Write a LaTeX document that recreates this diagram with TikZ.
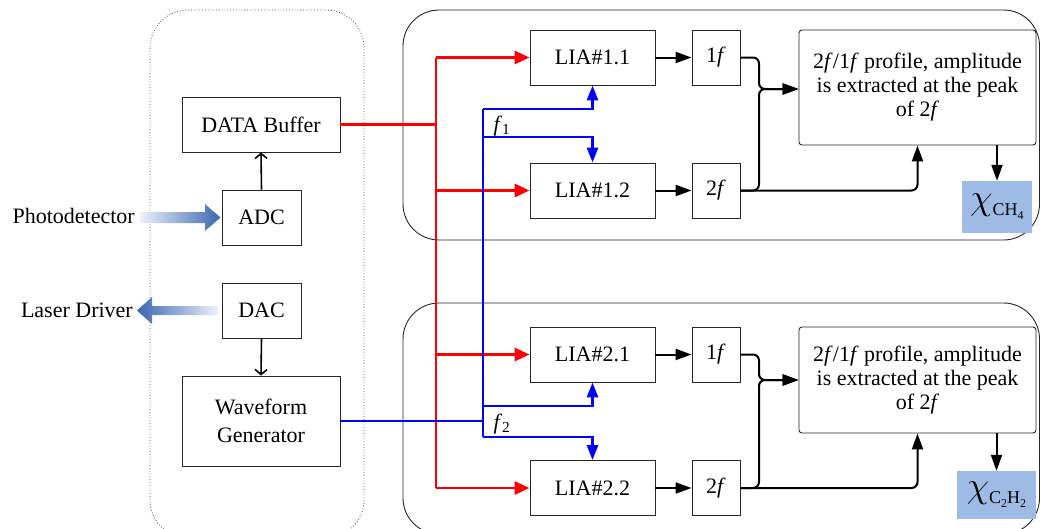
\documentclass[tikz,border=0pt]{standalone}
\usepackage{fontspec}
\usepackage{graphicx}
\setmainfont{Liberation Serif}
\usetikzlibrary{arrows.meta}
\definecolor{chiblue}{RGB}{157,187,228}
\definecolor{arrblue}{RGB}{58,103,176}
\definecolor{arrlight}{RGB}{236,241,250}
\newcommand{\bigchi}{\scalebox{1.75}{$\chi$}}
\begin{document}
\begin{tikzpicture}[x=1pt,y=-1pt,
  box/.style={draw=black!85, line width=0.9pt, fill=white, inner sep=0pt, align=center,
    font=\fontsize{22}{24}\selectfont},
  lbl/.style={inner sep=0pt, font=\fontsize{22}{24}\selectfont},
  chibox/.style={fill=chiblue, inner sep=0pt, font=\fontsize{20}{22}\selectfont},
  redline/.style={red, line width=2.9pt},
  redarr/.style={redline, -{Triangle[length=15pt,width=13pt]}},
  blueline/.style={blue, line width=2.8pt},
  bluearr/.style={blueline, -{Triangle[length=15pt,width=11pt]}},
  blkarr/.style={black, line width=2pt, -{Triangle[length=16pt,width=11pt]}},
  openarr/.style={black, line width=1.6pt, -{Straight Barb[length=5pt,width=12pt]}},
  container/.style={draw=black!85, line width=0.9pt, rounded corners=36pt}
]
\useasboundingbox (0,0) rectangle (1041,528);

% containers
\draw[black!70, line width=0.8pt, dotted, rounded corners=38pt] (150,10) rectangle (364,538);
\draw[container] (403,10) rectangle (1039.5,240);
\draw[container] (403,303) rectangle (1039.5,534);

% left blocks
\node[box, minimum width=158pt, minimum height=55pt] (buf) at (261,124.5) {DATA Buffer};
\node[box, minimum width=79pt, minimum height=55pt] (adc) at (261.5,217.5) {ADC};
\node[box, minimum width=79pt, minimum height=55pt] (dac) at (261.5,310.5) {DAC};
\node[box, minimum width=158pt, minimum height=90pt] (wg) at (261,421) {Waveform\\[4pt]Generator};

\node[lbl, anchor=east] (pd) at (135,216) {Photodetector};
\node[lbl, anchor=east] (ld) at (133,310) {Laser Driver};

% shaded arrows
\shade[left color=arrlight, right color=arrblue]
  (140,212) -- (205,212) -- (205,204) -- (220.5,217.5) -- (205,231) -- (205,223) -- (140,223) -- cycle;
\shade[left color=arrblue, right color=arrlight]
  (218,306) -- (152,306) -- (152,297) -- (137,310.5) -- (152,324) -- (152,315) -- (218,315) -- cycle;

\draw[openarr] (adc.north) -- (buf.south);
\draw[openarr] (dac.south) -- (wg.north);

% LIA boxes
\node[box, minimum width=125pt, minimum height=55pt] (l11) at (592.5,57.5) {LIA\#1.1};
\node[box, minimum width=125pt, minimum height=55pt] (l12) at (592.5,190.5) {LIA\#1.2};
\node[box, minimum width=125pt, minimum height=55pt] (l21) at (592.5,354.5) {LIA\#2.1};
\node[box, minimum width=125pt, minimum height=55pt] (l22) at (592.5,488) {LIA\#2.2};

\node[box, minimum width=48pt, minimum height=55pt] (f11) at (716,57.5) {1\textit{f}};
\node[box, minimum width=48pt, minimum height=55pt] (f12) at (716,190.5) {2\textit{f}};
\node[box, minimum width=48pt, minimum height=55pt] (f21) at (716,354.5) {1\textit{f}};
\node[box, minimum width=48pt, minimum height=55pt] (f22) at (716,488) {2\textit{f}};

\node[box, rounded corners=3pt, minimum width=237pt, minimum height=115pt] (p1) at (917.5,87.5)
  {2\textit{f}/1\textit{f} profile, amplitude\\is extracted at the peak\\of 2\textit{f}};
\node[box, rounded corners=3pt, minimum width=237pt, minimum height=106pt] (p2) at (917.5,380)
  {2\textit{f}/1\textit{f} profile, amplitude\\is extracted at the peak\\of 2\textit{f}};

\node[chibox, minimum width=70pt, minimum height=52pt] (c1) at (997,207)
  {\bigchi\raisebox{-6pt}{\fontsize{18}{18}\selectfont CH\raisebox{-4pt}{\fontsize{12}{12}\selectfont 4}}};
\node[chibox, minimum width=79pt, minimum height=48pt] (c2) at (996.5,495)
  {\bigchi\raisebox{-6pt}{\fontsize{18}{18}\selectfont C\raisebox{-4pt}{\fontsize{12}{12}\selectfont 2}H\raisebox{-4pt}{\fontsize{12}{12}\selectfont 2}}};

% red distribution
\coordinate (rj) at (436,124.5);
\draw[redline] (buf.east) -- (rj);
\draw[redline] (rj |- l11.west) -- (rj |- l22.west);
\draw[redarr] (rj |- l11.west) -- (l11.west);
\draw[redarr] (rj |- l12.west) -- (l12.west);
\draw[redarr] (rj |- l21.west) -- (l21.west);
\draw[redarr] (rj |- l22.west) -- (l22.west);

% blue distribution
\coordinate (bj) at (483,421);
\coordinate (b11) at (483,109);
\coordinate (b12) at (483,137);
\coordinate (b21) at (483,406);
\coordinate (b22) at (483,437);
\draw[blueline] (wg.east) -- (bj);
\draw[blueline] (b11) -- (b22);
\draw[bluearr] (b11) -| (l11.south);
\draw[bluearr] (b12) -| (l12.north);
\draw[bluearr] (b21) -| (l21.south);
\draw[bluearr] (b22) -| (l22.north);
\node[lbl] (fa) at (502,126) {\textit{f}\textsubscript{1}};
\node[lbl] (fb) at (502,424) {\textit{f}\textsubscript{2}};

% black connectors
\draw[blkarr] (l11.east) -- (f11.west);
\draw[blkarr] (l12.east) -- (f12.west);
\draw[blkarr] (l21.east) -- (f21.west);
\draw[blkarr] (l22.east) -- (f22.west);

\coordinate (m1) at (759,89);
\coordinate (m2) at (759,380);
\draw[blkarr, rounded corners=6pt] (f11.east) -| (m1) -- (m1 -| p1.west);
\draw[blkarr, rounded corners=6pt] (f12.east) -| (m1) -- (m1 -| p1.west);
\draw[blkarr, rounded corners=6pt] (f12.east) -| (p1.south);
\draw[blkarr, rounded corners=6pt] (f21.east) -| (m2) -- (m2 -| p2.west);
\draw[blkarr, rounded corners=6pt] (f22.east) -| (m2) -- (m2 -| p2.west);
\draw[blkarr, rounded corners=6pt] (f22.east) -| (p2.south);

\draw[blkarr] (p1.south -| c1.north) -- (c1.north);
\draw[blkarr] (p2.south -| c2.north) -- (c2.north);
\end{tikzpicture}
\end{document}
